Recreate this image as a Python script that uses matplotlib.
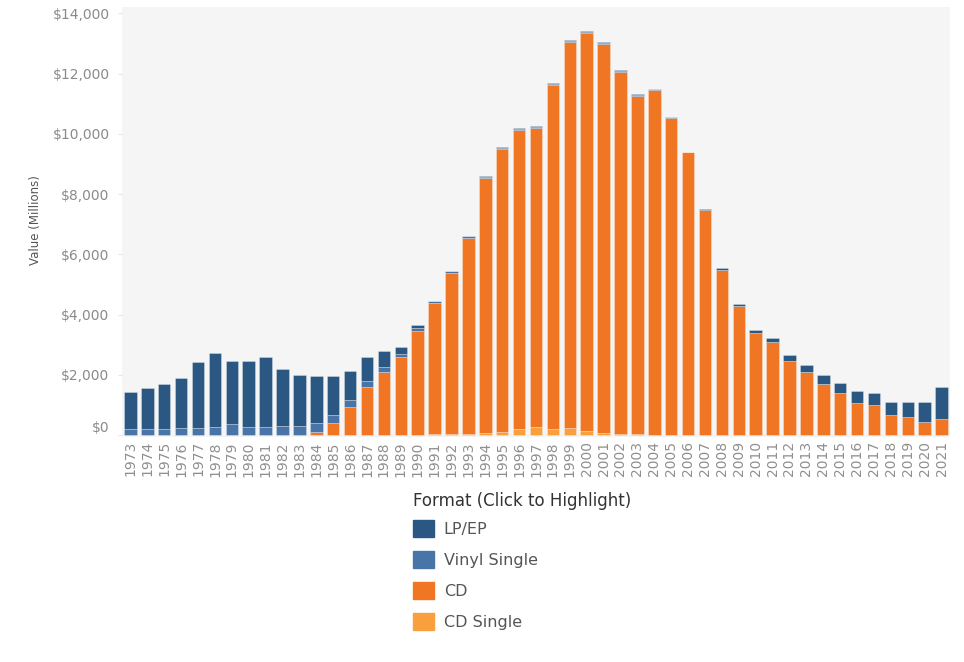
import numpy as np
import matplotlib.pyplot as plt
from matplotlib.patches import Patch
from matplotlib.ticker import FuncFormatter

# values in millions of dollars
years = list(range(1973, 2022))

lp_ep = [1247, 1360, 1485, 1663, 2195, 2473, 2110, 2210, 2342, 1925,
         1690, 1548, 1281, 983, 793, 532, 220, 87, 29, 14,
         11, 18, 25, 37, 33, 34, 32, 28, 27, 21,
         22, 19, 14, 16, 23, 57, 64, 89, 150, 190,
         230, 290, 310, 400, 400, 440, 490, 650, 1040]

vinyl_single = [190, 194, 211, 245, 245, 260, 354, 260, 256, 283,
                269, 298, 281, 228, 203, 180, 116, 94, 63, 66,
                51, 47, 47, 48, 35, 26, 28, 26, 32, 24,
                22, 19, 13, 11, 4, 3, 3, 3, 3, 3,
                3, 3, 3, 3, 3, 4, 5, 4, 4]

cd = [0, 0, 0, 0, 0, 0, 0, 0, 0, 0,
      17, 103, 390, 930, 1594, 2080, 2588, 3452, 4338, 5327,
      6511, 8465, 9377, 9935, 9915, 11416, 12816, 13215, 12909, 12044,
      11233, 11447, 10520, 9373, 7452, 5471, 4274, 3389, 3080, 2450,
      2100, 1700, 1400, 1070, 1000, 650, 590, 430, 540]

cd_single = [0, 0, 0, 0, 0, 0, 0, 0, 0, 0,
             0, 0, 0, 0, 0, 10, 0, 6, 35, 45,
             46, 56, 111, 184, 273, 213, 222, 143, 79, 20,
             36, 15, 11, 8, 12, 3, 3, 3, 2, 2,
             1, 1, 1, 1, 1, 1, 1, 1, 1]

formats = ['LP/EP', 'Vinyl Single', 'CD', 'CD Single']
colors = ['#2b5783', '#4874a8', '#f07623', '#f8a13c']

fig = plt.figure(figsize=(9.64, 6.62), dpi=100)
ax = fig.add_axes([122/964, 1 - 437/662, 828/964, 430/662])
ax.set_facecolor('#f5f5f5')

x = np.arange(len(years))
# tableau stacks the last legend entry at the bottom
stack = [cd_single, cd, vinyl_single, lp_ep]
stack_colors = [colors[3], colors[2], colors[1], colors[0]]
bottom = np.zeros(len(years))
for vals, c in zip(stack, stack_colors):
    vals = np.array(vals, dtype=float)
    ax.bar(x, vals, bottom=bottom, width=0.74, color=c,
           edgecolor=(1, 1, 1, 0.4), linewidth=0.5)
    bottom += vals

ax.set_xlim(-0.5, len(years) - 0.5)
ax.set_ylim(-66, 14210)
ax.set_yticks(np.arange(0, 14001, 2000))
ax.yaxis.set_major_formatter(FuncFormatter(lambda v, p: f"${v:,.0f}"))
ax.set_xticks(x)
ax.set_xticklabels([str(y) for y in years], rotation=90)
ax.tick_params(axis='y', colors='#e6e6e6', labelcolor='#8a8a8a',
               labelsize=10, length=3, pad=6)
ax.tick_params(axis='x', length=0, labelcolor='#8f8f8f', labelsize=10, pad=3)
for s in ax.spines.values():
    s.set_visible(False)
# tableau nudges the $0 label up inside the pane
ax.get_yticklabels()[0].set_va('bottom')

fig.text(36/964, 1 - 220/662, 'Value (Millions)', rotation=90,
         ha='center', va='center', fontsize=8.5, color='#555555')

handles = [Patch(facecolor=c, edgecolor=c) for c in colors]
leg = fig.legend(handles, formats, loc='upper left',
                 bbox_to_anchor=(407/964, 1 - 486/662),
                 title='Format (Click to Highlight)', frameon=False,
                 fontsize=11.5, title_fontsize=12, alignment='left',
                 handlelength=1.3, handleheight=1.3, handletextpad=0.6,
                 labelspacing=0.85, borderaxespad=0)
leg.get_title().set_color('#333333')
for t in leg.get_texts():
    t.set_color('#555555')
# pull the entries a little closer to the title
leg._legend_box.sep = 6.8

fig.savefig('out.png', dpi=100, facecolor='white')
